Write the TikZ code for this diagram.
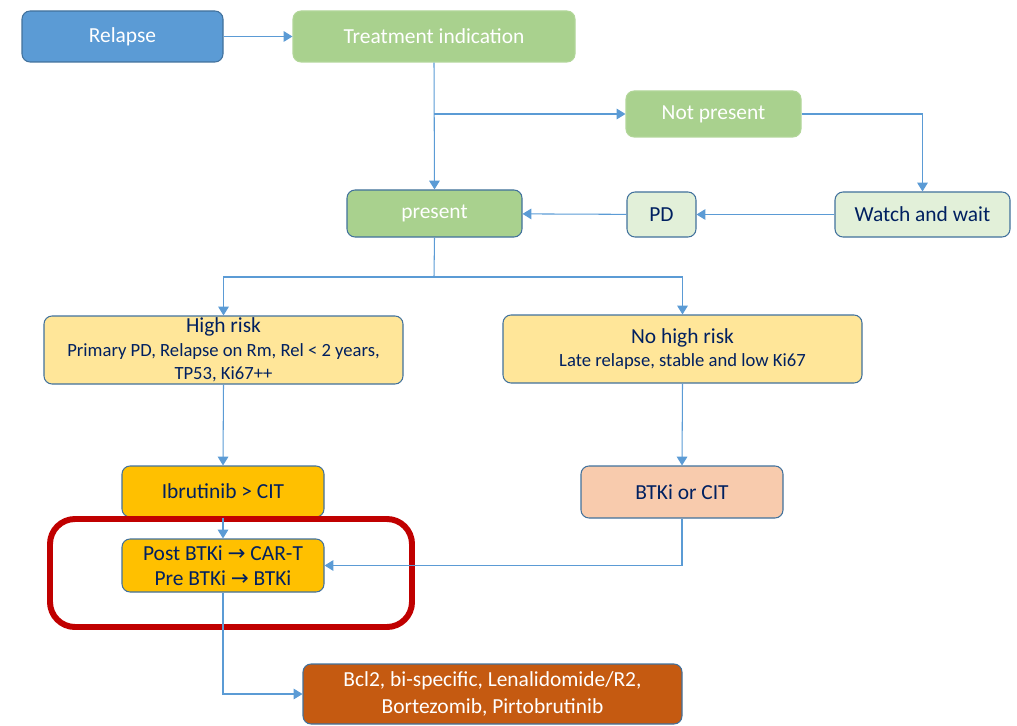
\documentclass[tikz,border=0pt]{standalone}
\usepackage{fontspec}
\setmainfont{Carlito}
\newfontfamily\arrowfont{DejaVu Sans}
\usetikzlibrary{arrows.meta}

\definecolor{boxblue}{HTML}{5B9BD5}
\definecolor{edgeblue}{HTML}{41719C}
\definecolor{midgreen}{HTML}{A9D18E}
\definecolor{palegreen}{HTML}{E2F0D9}
\definecolor{paleyellow}{HTML}{FFE699}
\definecolor{gold}{HTML}{FFC000}
\definecolor{peach}{HTML}{F8CBAD}
\definecolor{rust}{HTML}{C55A11}
\definecolor{navy}{HTML}{002060}
\definecolor{darkred}{HTML}{C00000}

\newcommand{\toarrow}{{\arrowfont →}}
\newcommand{\subline}{\fontsize{10.6}{13}\selectfont}

\begin{document}
\begin{tikzpicture}[x=0.02cm, y=-0.02cm,
    box/.style={rectangle, rounded corners=0.16cm, draw=edgeblue, line width=0.6pt,
                align=center, inner sep=0pt, text=navy, font=\fontsize{12.2}{14.5}\selectfont},
    whitetext/.style={text=white},
    link/.style={draw=boxblue, line width=0.6pt, -{Triangle[width=6pt,length=5pt]}}]
    \useasboundingbox (0,0) rectangle (1017,726);
    % top row
    \node[box, fill=boxblue, whitetext, minimum width=201*0.02cm, minimum height=51*0.02cm] (relapse) at (122.5,36.5) {Relapse};
    \node[box, fill=midgreen, draw=midgreen!90!white, whitetext, minimum width=282*0.02cm, minimum height=51*0.02cm] (treat) at (434,36.5) {Treatment indication};
    \node[box, fill=midgreen, draw=midgreen!90!white, whitetext, minimum width=175*0.02cm, minimum height=46*0.02cm] (notpres) at (713.5,114) {Not present};
    % second row
    \node[box, fill=midgreen, whitetext, minimum width=175*0.02cm, minimum height=47*0.02cm] (present) at (434.5,213.5) {present};
    \node[box, fill=palegreen, minimum width=69*0.02cm, minimum height=45*0.02cm] (pd) at (661.5,214.5) {PD};
    \node[box, fill=palegreen, minimum width=175*0.02cm, minimum height=45*0.02cm] (watch) at (922.5,214.5) {Watch and wait};
    % risk groups
    \node[box, fill=paleyellow, minimum width=359*0.02cm, minimum height=68*0.02cm] (high) at (223.5,350)
        {High risk\\[-1pt]{\subline Primary PD, Relapse on Rm, Rel < 2 years,}\\[-1pt]{\subline TP53, Ki67++}};
    \node[box, fill=paleyellow, minimum width=359*0.02cm, minimum height=68*0.02cm] (nohigh) at (682.5,349)
        {No high risk\\[-1pt]{\subline Late relapse, stable and low Ki67}};
    % treatment boxes
    \node[box, fill=gold, minimum width=202*0.02cm, minimum height=51*0.02cm] (ibru) at (223,491.5) {Ibrutinib > CIT};
    \node[box, fill=peach, minimum width=202*0.02cm, minimum height=52*0.02cm] (btkcit) at (682,492) {BTKi or CIT};
    \node[box, fill=gold, minimum width=202*0.02cm, minimum height=53*0.02cm] (post) at (223,565.5)
        {Post BTKi \toarrow{} CAR-T\\[0pt]Pre BTKi \toarrow{} BTKi};
    \node[box, fill=rust, whitetext, minimum width=379*0.02cm, minimum height=60*0.02cm] (bcl) at (492.5,694)
        {Bcl2, bi-specific, Lenalidomide/R2,\\[1pt]Bortezomib, Pirtobrutinib};
    % highlight frame
    \draw[darkred, line width=3.4pt, rounded corners=0.5cm] (50,519) rectangle (412,627);
    % connectors
    \coordinate (split) at (434,277);
    \draw[link] (relapse) -- (treat);
    \draw[link] (treat.south) -- (present.north);
    \draw[link] (treat.south |- notpres.west) -- (notpres.west);
    \draw[link] (notpres.east) -| (watch.north);
    \draw[link] (watch) -- (pd);
    \draw[link] (pd) -- (present);
    \draw[draw=boxblue, line width=0.6pt] (present.south) -- (split);
    \draw[link] (split) -| (high.north);
    \draw[link] (split) -| (nohigh.north);
    \draw[link] (high.south) -- (ibru.north);
    \draw[link] (ibru.south) -- (post.north);
    \draw[link] (nohigh.south) -- (btkcit.north);
    \draw[link] (btkcit.south) |- (post.east);
    \draw[link] (post.south) |- (bcl.west);
\end{tikzpicture}
\end{document}
